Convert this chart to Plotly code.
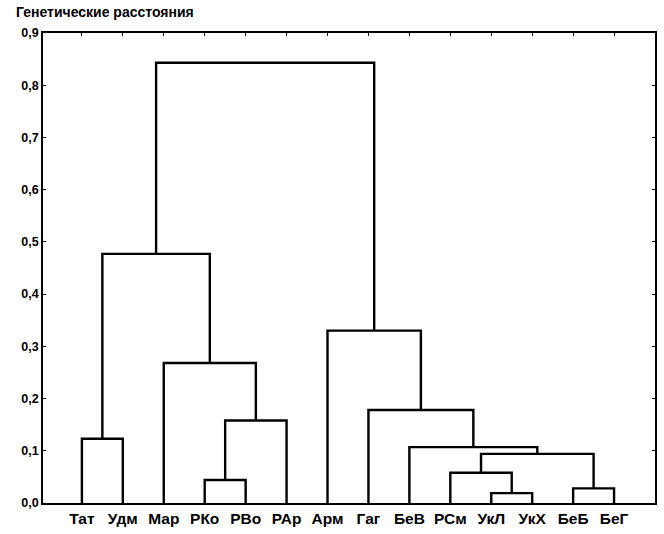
import plotly.graph_objects as go

# Leaf labels (left to right)
leaves = ["Тат", "Удм", "Мар", "РКо", "РВо", "РАр", "Арм", "Гаг",
          "БеВ", "РСм", "УкЛ", "УкХ", "БеБ", "БеГ"]

# Merges: (left child, right child, height). Children: leaf index (int) or node name (str)
merge_left = [0, 3, "n2", 2, "n1", 10, 9, 12, "n7", 8, 7, 6, "n5"]
merge_right = [1, 4, 5, "n3", "n4", 11, "n6", 13, "n8", "n9", "n10", "n11", "n12"]
merge_height = [0.123, 0.044, 0.158, 0.268, 0.477, 0.019, 0.058, 0.028,
                0.094, 0.107, 0.178, 0.330, 0.843]
merge_name = ["n1", "n2", "n3", "n4", "n5", "n6", "n7", "n8", "n9", "n10", "n11", "n12", "n13"]

pos = {}
hgt = {}
for i in range(len(leaves)):
    pos[i] = i + 1
    hgt[i] = 0.0

fig = go.Figure()
for a, b, h, name in zip(merge_left, merge_right, merge_height, merge_name):
    xa, xb = pos[a], pos[b]
    fig.add_trace(go.Scatter(
        x=[xa, xa, xb, xb], y=[hgt[a], h, h, hgt[b]],
        mode="lines", line=dict(color="black", width=2.4),
        hoverinfo="skip", showlegend=False))
    pos[name] = (xa + xb) / 2
    hgt[name] = h

font = "Liberation Sans, Arial, sans-serif"
fig.update_layout(
    width=664, height=534,
    margin=dict(l=43, r=9, t=33, b=31),
    paper_bgcolor="white", plot_bgcolor="white",
    separators=", ",
    font=dict(family=font, size=12, color="black"),
    annotations=[dict(text="<b>Генетические расстояния</b>", xref="paper", yref="paper",
                      x=-0.048, y=1.044, xanchor="left", yanchor="middle",
                      showarrow=False,
                      font=dict(family=font, size=14, color="black"))],
)
fig.update_xaxes(range=[0.05, 15.0], tickvals=list(range(1, len(leaves) + 1)),
                 ticktext=["<b>%s</b>" % s for s in leaves], showgrid=False, zeroline=False,
                 showline=True, linecolor="black", linewidth=1.8, mirror="allticks",
                 ticks="inside", ticklen=3, tickcolor="black", automargin=False,
                 tickfont=dict(family=font, size=15.5, color="black"))
fig.update_yaxes(range=[0, 0.9], tickvals=[i / 10 for i in range(10)],
                 tickformat=".1f", showgrid=False, zeroline=False,
                 showline=True, linecolor="black", linewidth=1.8, mirror="allticks",
                 ticks="inside", ticklen=3, tickcolor="black", automargin=False,
                 tickfont=dict(family=font, size=12.5, color="black", weight="bold"))

fig.write_html("out.html")
